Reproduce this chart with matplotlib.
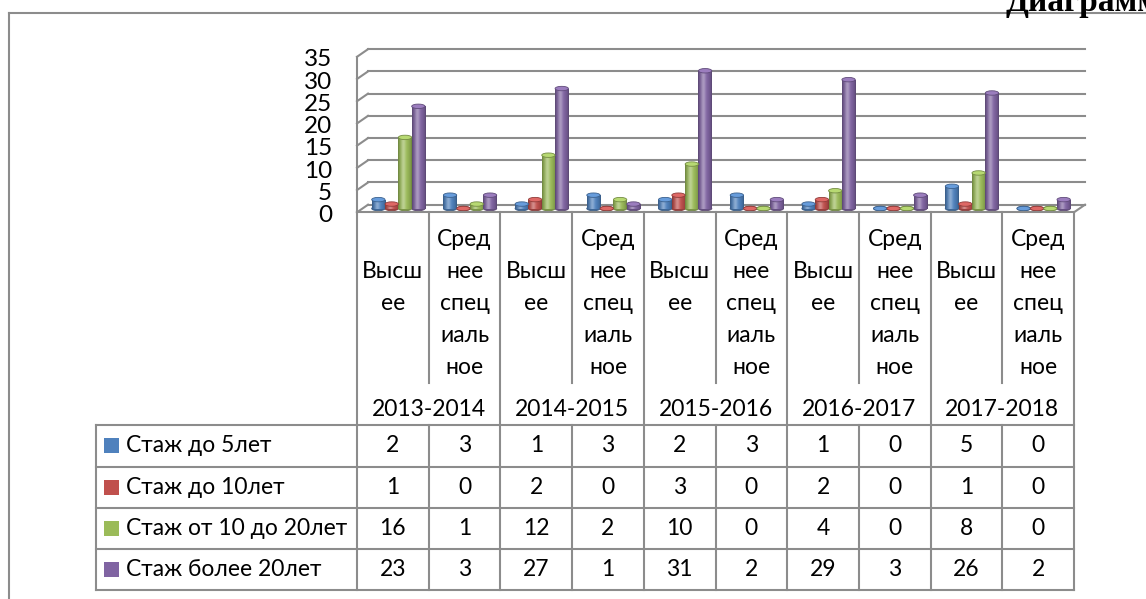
import numpy as np
import matplotlib
matplotlib.use('Agg')
import matplotlib.pyplot as plt
from matplotlib.patches import Ellipse, Rectangle
from matplotlib.transforms import ScaledTranslation
from matplotlib.colors import to_rgb

plt.rcParams['font.family'] = ['Lato', 'DejaVu Sans']

# data
years = ['2013-2014', '2014-2015', '2015-2016', '2016-2017', '2017-2018']
education = ['Высшее', 'Среднее специальное']
edu_lines = [['Высш', 'ее'], ['Сред', 'нее', 'спец', 'иаль', 'ное']]
series_names = ['Стаж до 5лет', 'Стаж до 10лет', 'Стаж от 10 до 20лет', 'Стаж более 20лет']
upto5 = [2, 3, 1, 3, 2, 3, 1, 0, 5, 0]
upto10 = [1, 0, 2, 0, 3, 0, 2, 0, 1, 0]
from10to20 = [16, 1, 12, 2, 10, 0, 4, 0, 8, 0]
over20 = [23, 3, 27, 1, 31, 2, 29, 3, 26, 2]
series = [upto5, upto10, from10to20, over20]
colors = ['#4F81BD', '#C0504D', '#9BBB59', '#8064A2']
yticks = [0, 5, 10, 15, 20, 25, 30, 35]

DPI = 100
W, H = 1146, 599
fig = plt.figure(figsize=(W / DPI, H / DPI), dpi=DPI)
gray = '#8c8c8c'

# overlay axes in pixel coords (frame, table)
ov = fig.add_axes([0, 0, 1, 1])
ov.set_xlim(0, W)
ov.set_ylim(H, 0)
ov.axis('off')

# chart plane where the columns stand
ax_l, ax_r, ax_b, ax_t = 362.5, 1079.5, 208.5, 53.0
ax = fig.add_axes([ax_l / W, (H - ax_b) / H, (ax_r - ax_l) / W, (ax_b - ax_t) / H])
ax.patch.set_visible(False)
ax.set_zorder(2)
n = len(upto5)
ax.set_xlim(-0.5, n - 0.5)
ax.set_ylim(0, 35)
for s in ax.spines.values():
    s.set_visible(False)
ax.set_xticks([])
ax.set_yticks(yticks)
ax.tick_params(axis='y', length=0, pad=22, labelsize=17.5)
for lab in ax.get_yticklabels():
    lab.set_transform(lab.get_transform() + ScaledTranslation(0, -5 / DPI, fig.dpi_scale_trans))


def off(dx, dy):
    return ax.transData + ScaledTranslation(dx / DPI, dy / DPI, fig.dpi_scale_trans)


back = off(5.5, 3.8)
front = off(-5.5, -3.8)
x0, x1 = -0.5, n - 0.5

# walls and gridlines
for y in yticks:
    p0 = front.transform((x0, y))
    p1 = back.transform((x0, y))
    ax.plot([p0[0], p1[0]], [p0[1], p1[1]], color=gray, lw=1.5, transform=None, clip_on=False, zorder=0)
    ax.plot([x0, x1], [y, y], color=gray, lw=1.5, transform=back, clip_on=False, zorder=0)
ax.plot([x0, x0], [0, 35], color=gray, lw=1.5, transform=front, clip_on=False, zorder=0)
ax.plot([x0, x1], [0, 0], color=gray, lw=1.5, transform=front, clip_on=False, zorder=5)
p0 = front.transform((x1, 0))
p1 = back.transform((x1, 0))
ax.plot([p0[0], p1[0]], [p0[1], p1[1]], color=gray, lw=1.5, transform=None, clip_on=False, zorder=5)

# cylinder columns
bw = 0.186
eh = 1.0
t = np.linspace(0, 1, 40)
for j, (vals, c) in enumerate(zip(series, colors)):
    base = np.array(to_rgb(c))
    shade = 0.68 + 0.32 * np.sin(np.pi * t) ** 0.6
    hl = np.exp(-((t - 0.38) / 0.18) ** 2)
    grad = base[None, :] * shade[:, None] + (1 - base[None, :]) * 0.35 * hl[:, None]
    grad = np.clip(grad, 0, 1)
    xs = np.arange(n) + (j - 1.5) * bw
    bars = ax.bar(xs, vals, width=bw, color=c, linewidth=0, zorder=3)
    for xc, v, rect in zip(xs, vals, bars):
        ax.add_patch(Ellipse((xc, 0), bw, eh, facecolor=base * 0.8, edgecolor=base * 0.7,
                             lw=0.6, zorder=2, clip_on=False))
        if v > 0:
            im = ax.imshow(grad[None, :, :], extent=(xc - bw / 2, xc + bw / 2, 0, v),
                           aspect='auto', interpolation='bilinear', zorder=3)
            im.set_clip_path(rect)
        top = np.clip(base * 1.05 + 0.08, 0, 1)
        ax.add_patch(Ellipse((xc, v), bw, eh, facecolor=top, edgecolor=base * 0.75,
                             lw=0.6, zorder=4, clip_on=False))
ax.set_xlim(-0.5, n - 0.5)
ax.set_ylim(0, 35)

# outer frame and title (cut by the page edge in the original)
ov.plot([8.5, 8.5], [13, H], color=gray, lw=1.5)
ov.plot([8.5, W], [13, 13], color=gray, lw=1.5)
ov.text(1006, 11, 'Диаграмма', fontsize=24, fontweight='bold',
        family=['Liberation Serif', 'DejaVu Serif'], va='baseline', ha='left', clip_on=True)

# data table
cw = 71.7
cx0 = 357.0
tl = 96.0
floor_y = 212.0
sub_end = 383.0
rows_y = [425.0, 466.7, 507.5, 549.0, 590.0]
cols = [cx0 + cw * k for k in range(n + 1)]
for k, xx in enumerate(cols):
    if k % 2 == 0:
        ov.plot([xx, xx], [floor_y, rows_y[-1]], color=gray, lw=1.5)
    else:
        ov.plot([xx, xx], [floor_y, sub_end], color=gray, lw=1.5)
        ov.plot([xx, xx], [rows_y[0], rows_y[-1]], color=gray, lw=1.5)
for yy in rows_y:
    ov.plot([tl, cols[-1]], [yy, yy], color=gray, lw=1.5)
ov.plot([tl, tl], [rows_y[0], rows_y[-1]], color=gray, lw=1.5)

fs = 16.5
line_start = [272.0, 240.0]
for k in range(n):
    lines = edu_lines[k % 2]
    for i, ln in enumerate(lines):
        ov.text(cx0 + cw * (k + 0.5), line_start[k % 2] + 32 * i, ln, fontsize=fs,
                ha='center', va='center')
for g, yr in enumerate(years):
    ov.text(cx0 + cw * (2 * g + 1), 409, yr, fontsize=fs, ha='center', va='center')

for r, (name, vals, c) in enumerate(zip(series_names, series, colors)):
    yc = (rows_y[r] + rows_y[r + 1]) / 2
    ov.add_patch(Rectangle((104, yc - 7.5), 15, 15, facecolor=c, edgecolor='none'))
    ov.text(126, yc, name, fontsize=fs, ha='left', va='center')
    for k, v in enumerate(vals):
        ov.text(cx0 + cw * (k + 0.5), yc, str(v), fontsize=fs, ha='center', va='center')

fig.savefig('out.png', dpi=DPI)
